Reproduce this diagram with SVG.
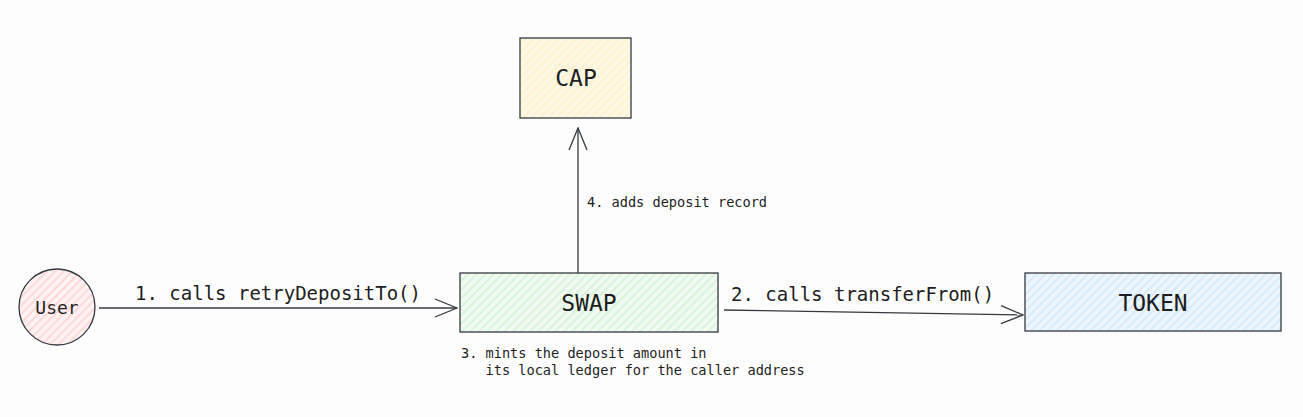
<svg xmlns="http://www.w3.org/2000/svg" width="1303" height="417" viewBox="0 0 1303 417">
<defs>
<pattern id="hPink" patternUnits="userSpaceOnUse" width="6" height="6" patternTransform="rotate(-45)"><rect width="6" height="6" fill="#fdf1f1"/><line x1="0" y1="3" x2="6" y2="3" stroke="#ffc9c9" stroke-width="1.2"/></pattern>
<pattern id="hGreen" patternUnits="userSpaceOnUse" width="6" height="6" patternTransform="rotate(-45)"><rect width="6" height="6" fill="#f0faf1"/><line x1="0" y1="3" x2="6" y2="3" stroke="#c7f0cd" stroke-width="1.2"/></pattern>
<pattern id="hYellow" patternUnits="userSpaceOnUse" width="6" height="6" patternTransform="rotate(-45)"><rect width="6" height="6" fill="#fdf8e6"/><line x1="0" y1="3" x2="6" y2="3" stroke="#fcefbf" stroke-width="1.2"/></pattern>
<pattern id="hBlue" patternUnits="userSpaceOnUse" width="6" height="6" patternTransform="rotate(-45)"><rect width="6" height="6" fill="#eef6fd"/><line x1="0" y1="3" x2="6" y2="3" stroke="#c6e4fb" stroke-width="1.2"/></pattern>
<marker id="arr" viewBox="0 0 24 20" refX="23" refY="10" markerWidth="24" markerHeight="20" markerUnits="userSpaceOnUse" orient="auto"><path d="M1 1 L23 10 L1 19" fill="none" stroke="#343a40" stroke-width="1.3"/></marker>
<style>
.shape{stroke:#343a40;stroke-width:1.3;}
.node{font-family:"DejaVu Sans Mono","Liberation Mono",monospace;fill:#1e1e1e;text-anchor:middle;}
.lbl{font-family:"DejaVu Sans Mono","Liberation Mono",monospace;fill:#1e1e1e;}
.edge{fill:none;stroke:#343a40;stroke-width:1.3;}
</style>
</defs>
<rect width="1303" height="417" fill="#fdfdfd"/>
<g id="user">
<circle class="shape" cx="57" cy="307" r="38" fill="url(#hPink)"/>
<text class="node" x="57" y="314" font-size="18">User</text>
</g>
<g id="swap">
<rect class="shape" x="460" y="273" width="258" height="59" fill="url(#hGreen)"/>
<text class="node" x="589" y="311" font-size="23">SWAP</text>
</g>
<g id="cap">
<rect class="shape" x="520" y="38" width="111" height="80" fill="url(#hYellow)"/>
<text class="node" x="576" y="86" font-size="23">CAP</text>
</g>
<g id="token">
<rect class="shape" x="1025" y="273" width="256" height="58" fill="url(#hBlue)"/>
<text class="node" x="1153" y="311" font-size="23">TOKEN</text>
</g>
<g id="connectors">
<path class="edge" d="M99 308 L457 308" marker-end="url(#arr)"/>
<path class="edge" d="M724 310 L1023 315" marker-end="url(#arr)"/>
<path class="edge" d="M578 273 L578 128" marker-end="url(#arr)"/>
<text class="lbl" x="135" y="300" font-size="19">1. calls retryDepositTo()</text>
<text class="lbl" x="731" y="301" font-size="19">2. calls transferFrom()</text>
<text class="lbl" x="587" y="207" font-size="13.6">4. adds deposit record</text>
<text class="lbl" x="461" y="358" font-size="13.6" xml:space="preserve">3. mints the deposit amount in</text>
<text class="lbl" x="461" y="375" font-size="13.6" xml:space="preserve">   its local ledger for the caller address</text>
</g>
</svg>
